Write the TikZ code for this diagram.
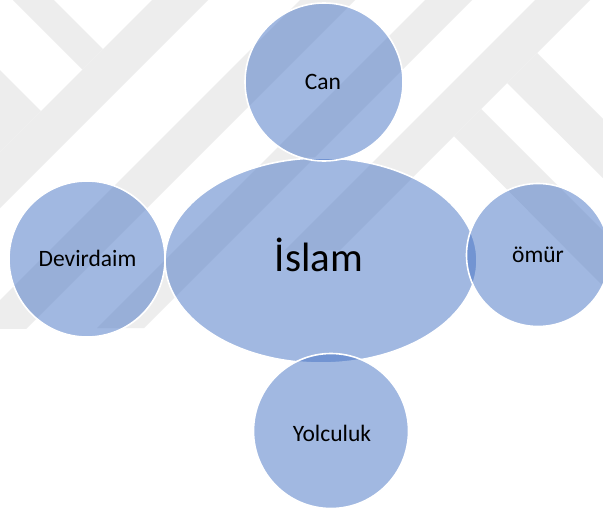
\documentclass[tikz,border=0pt]{standalone}
\usepackage{fontspec}
\setmainfont{Carlito}
\usetikzlibrary{shapes.geometric}
\definecolor{accent}{RGB}{68,114,196}
\definecolor{markgrey}{RGB}{237,237,237}
\tikzset{
  bubble/.style={circle, inner sep=0pt, fill=accent, fill opacity=0.5,
    draw=white, draw opacity=1, line width=1.6pt},
  hub/.style={ellipse, inner sep=0pt, fill=accent, fill opacity=0.5,
    draw=white, draw opacity=1, line width=1.6pt},
  word/.style={anchor=base, inner sep=0pt, text=black, font=\fontsize{23.5}{28}\selectfont},
  bigword/.style={anchor=base, inner sep=0pt, text=black, font=\fontsize{41}{48}\selectfont},
  band/.style={fill=markgrey}
}
\begin{document}
\begin{tikzpicture}[x=1pt,y=-1pt]
\useasboundingbox (0,0) rectangle (603,512);
\fill[white] (0,0) rectangle (603,512);

% faint background watermark of diagonal bands
\begin{scope}
  \clip (0,0) rectangle (603,328);
  \fill[band] (13,0) -- (54,0) -- (103,49) -- (82.5,69.5) -- cycle;
  \fill[band] (152,0) -- (208,0) -- (0,208) -- (0,152) -- cycle;
  \fill[band] (0,70) -- (41,111) -- (0,152) -- cycle;
  \fill[band] (300,0) -- (355,0) -- (0,355) -- (0,300) -- cycle;
  \fill[band] (425,0) -- (472,0) -- (144,328) -- (97,328) -- cycle;
  \fill[band] (535,0) -- (590,0) -- (340,250) -- (285,250) -- cycle;
  \fill[band] (537,53) -- (603,119) -- (603,178) -- (507,83) -- cycle;
  \fill[band] (481,109) -- (603,231) -- (603,286) -- (454,136) -- cycle;
\end{scope}

% central hub and the four satellites
\node[hub, minimum width=312pt, minimum height=205pt] (hub) at (321,260.5) {};
\node[bubble, minimum size=158pt] (top)   at (324,82)    {};
\node[bubble, minimum size=156pt] (left)  at (87,259)    {};
\node[bubble, minimum size=143pt] (right) at (538,255)   {};
\node[bubble, minimum size=155pt] (down)  at (331,431)   {};

% labels
\node[bigword] (hubtext)   at (319,271.7) {İslam};
\node[word]    (toptext)   at (323,89)    {Can};
\node[word]    (lefttext)  at (87.5,266)  {Devirdaim};
\node[word]    (righttext) at (538,262)   {ömür};
\node[word]    (downtext)  at (332,441)   {Yolculuk};
\end{tikzpicture}
\end{document}
